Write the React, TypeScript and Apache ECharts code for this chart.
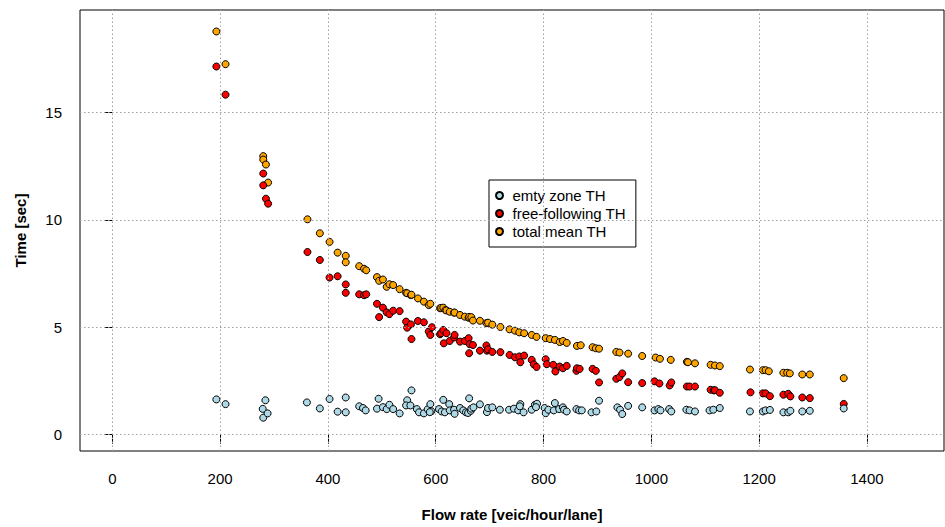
import React, { useEffect, useRef } from "react";
import * as echarts from "echarts";

const xTicks = [0, 200, 400, 600, 800, 1000, 1200, 1400];
const yTicks = [0, 5, 10, 15];

const seriesNames = ["emty zone TH", "free-following TH", "total mean TH"];

const emptyZoneTH = [
  [193, 1.64], [210, 1.42], [280, 0.79], [279, 1.2], [284, 1.6], [288, 0.99], [361, 1.5], [385, 1.22],
  [403, 1.66], [418, 1.07], [433, 1.04], [433, 1.73], [458, 1.32], [465, 1.24], [470, 1.13], [494, 1.67],
  [491, 1.21], [502, 1.28], [509, 1.19], [514, 1.39], [521, 1.19], [533, 0.99], [547, 1.6], [545, 1.36],
  [553, 1.36], [555, 2.06], [565, 1.19], [569, 1.04], [578, 0.99], [585, 1.18], [590, 1.42], [592, 1.09],
  [589, 1.05], [606, 1.19], [614, 1.62], [611, 1.08], [617, 1.04], [625, 1.42], [626, 1.13], [634, 1.16],
  [635, 0.97], [645, 1.24], [651, 1.13], [656, 1.04], [662, 1.69], [660, 1.01], [665, 1.11], [666, 1.21],
  [670, 1.27], [682, 1.41], [695, 1.05], [697, 1.24], [705, 1.27], [719, 1.16], [736, 1.16], [745, 1.21],
  [753, 1.13], [757, 1.42], [763, 1.04], [756, 1.32], [778, 1.16], [784, 1.39], [788, 1.44], [786, 1.28],
  [802, 1.24], [804, 1.0], [809, 1.16], [821, 1.47], [819, 1.13], [829, 1.19], [836, 1.27], [838, 1.16],
  [843, 1.08], [861, 1.19], [866, 1.13], [871, 1.13], [889, 1.04], [898, 1.08], [903, 1.58], [937, 1.27],
  [942, 1.16], [946, 0.96], [957, 1.34], [983, 1.27], [1006, 1.13], [1013, 1.19], [1017, 1.13], [1033, 1.19],
  [1037, 1.08], [1065, 1.16], [1071, 1.13], [1081, 1.08], [1108, 1.13], [1115, 1.16], [1127, 1.24],
  [1183, 1.08], [1207, 1.08], [1212, 1.13], [1220, 1.15], [1245, 1.04], [1254, 1.04], [1258, 1.11],
  [1280, 1.08], [1294, 1.11], [1357, 1.22],
];

const freeFollowingTH = [
  [193, 17.13], [210, 15.82], [280, 12.15], [280, 11.6], [285, 10.98], [289, 10.75], [362, 8.5], [385, 8.13],
  [403, 7.31], [418, 7.37], [433, 6.99], [433, 6.6], [458, 6.53], [467, 6.49], [471, 6.53], [491, 6.09],
  [495, 5.47], [502, 5.91], [509, 5.69], [514, 5.61], [521, 5.77], [533, 5.75], [545, 5.26], [547, 4.98],
  [554, 5.13], [555, 4.45], [567, 5.29], [578, 5.23], [587, 4.8], [590, 4.64], [593, 5.0], [608, 4.67],
  [610, 4.72], [614, 4.87], [615, 4.25], [620, 4.72], [626, 4.36], [634, 4.52], [635, 4.64], [645, 4.33],
  [654, 4.36], [661, 4.49], [662, 3.79], [663, 4.21], [669, 4.17], [682, 3.91], [694, 4.15], [695, 3.91],
  [697, 3.97], [705, 3.85], [720, 3.84], [737, 3.71], [747, 3.6], [755, 3.64], [757, 3.37], [764, 3.68],
  [778, 3.48], [782, 3.27], [787, 3.15], [804, 3.51], [806, 3.28], [818, 3.25], [822, 2.94], [830, 3.17],
  [836, 3.09], [843, 3.2], [861, 2.97], [862, 3.09], [867, 3.06], [891, 3.06], [897, 2.97], [903, 2.43],
  [935, 2.6], [941, 2.68], [946, 2.85], [957, 2.44], [983, 2.4], [1006, 2.48], [1015, 2.38], [1034, 2.29],
  [1037, 2.43], [1066, 2.24], [1071, 2.24], [1081, 2.24], [1110, 2.09], [1116, 2.06], [1118, 2.07],
  [1127, 1.95], [1184, 1.97], [1207, 1.92], [1212, 1.92], [1220, 1.79], [1245, 1.86], [1254, 1.9],
  [1258, 1.78], [1280, 1.73], [1294, 1.7], [1357, 1.43],
];

const totalMeanTH = [
  [193, 18.76], [210, 17.24], [280, 12.96], [280, 12.8], [285, 12.57], [289, 11.73], [362, 10.02], [385, 9.37],
  [403, 8.97], [418, 8.47], [433, 8.32], [433, 8.02], [458, 7.84], [467, 7.72], [471, 7.65], [491, 7.33],
  [495, 7.16], [502, 7.22], [509, 6.88], [514, 7.0], [521, 6.96], [533, 6.77], [545, 6.6], [547, 6.58],
  [554, 6.49], [555, 6.51], [567, 6.34], [578, 6.19], [587, 6.03], [590, 6.09], [608, 5.88], [610, 5.9],
  [614, 5.91], [618, 5.8], [620, 5.78], [626, 5.72], [634, 5.68], [635, 5.68], [645, 5.57], [654, 5.49],
  [661, 5.44], [662, 5.48], [666, 5.47], [669, 5.31], [682, 5.3], [694, 5.19], [697, 5.21], [705, 5.12],
  [720, 5.01], [737, 4.9], [747, 4.84], [755, 4.76], [764, 4.72], [778, 4.64], [787, 4.55], [804, 4.49],
  [812, 4.45], [821, 4.41], [830, 4.31], [836, 4.36], [843, 4.27], [862, 4.13], [869, 4.16], [891, 4.07],
  [897, 4.02], [903, 4.0], [935, 3.85], [941, 3.82], [957, 3.77], [983, 3.66], [1008, 3.59], [1016, 3.53],
  [1036, 3.48], [1066, 3.39], [1068, 3.37], [1081, 3.32], [1110, 3.25], [1118, 3.22], [1127, 3.19],
  [1183, 3.03], [1207, 3.0], [1212, 3.0], [1218, 2.95], [1245, 2.88], [1252, 2.88], [1257, 2.85],
  [1280, 2.8], [1294, 2.8], [1357, 2.63],
];

const FONT = "'Liberation Sans', Arial, Helvetica, sans-serif";
const FS = 15;

export default function App() {
  const ref = useRef<HTMLDivElement>(null);

  useEffect(() => {
    document.body.style.margin = "0";
    const chart = echarts.init(ref.current as HTMLDivElement, null, { renderer: "svg" });

    const pointStyle = (color: string) => ({
      color,
      borderColor: "#000",
      borderWidth: 1,
      opacity: 1,
    });

    chart.setOption({
      animation: false,
      backgroundColor: "#fff",
      textStyle: { fontFamily: FONT },
      grid: {
        left: 80,
        top: 10,
        right: 1,
        bottom: 74,
        show: true,
        borderColor: "#000",
        borderWidth: 1,
        backgroundColor: "transparent",
      },
      legend: {
        orient: "vertical",
        left: 489,
        top: 180,
        data: seriesNames,
        backgroundColor: "#fff",
        borderColor: "#000",
        borderWidth: 1,
        borderRadius: 0,
        padding: [8, 10, 8, 6],
        itemGap: 3,
        itemWidth: 16,
        itemHeight: 7,
        selectedMode: false,
        textStyle: { fontSize: FS, color: "#000", fontFamily: FONT },
      },
      xAxis: {
        type: "value",
        min: -60,
        max: 1543,
        name: "Flow rate [veic/hour/lane]",
        nameLocation: "middle",
        nameGap: 56,
        nameTextStyle: { fontSize: FS, fontWeight: "bold", color: "#000", fontFamily: FONT },
        axisLine: { show: false },
        splitLine: { show: false },
        axisTick: { show: true, customValues: xTicks, length: 9, lineStyle: { color: "#000" } },
        axisLabel: {
          customValues: xTicks,
          fontSize: FS,
          color: "#000",
          margin: 20,
          fontFamily: FONT,
          formatter: (v: number) => String(v),
        },
      },
      yAxis: {
        type: "value",
        min: -0.76,
        max: 19.76,
        name: "Time [sec]",
        nameLocation: "middle",
        nameGap: 52,
        nameRotate: 90,
        nameTextStyle: { fontSize: FS, fontWeight: "bold", color: "#000", fontFamily: FONT },
        axisLine: { show: false },
        splitLine: { show: false },
        axisTick: { show: true, customValues: yTicks, length: 8, lineStyle: { color: "#000" } },
        axisLabel: {
          customValues: yTicks,
          fontSize: FS,
          color: "#000",
          margin: 18,
          fontFamily: FONT,
          formatter: (v: number) => String(v),
        },
      },
      series: [
        {
          type: "scatter",
          name: "gridlines",
          data: [],
          z: 1,
          silent: true,
          markLine: {
            silent: true,
            symbol: ["none", "none"],
            label: { show: false },
            lineStyle: { color: "#a0a0a0", type: [1.5, 2.5], width: 1 },
            data: [
              ...xTicks.map((v) => ({ xAxis: v })),
              ...yTicks.map((v) => ({ yAxis: v })),
            ],
          },
        },
        {
          type: "scatter",
          name: seriesNames[2],
          data: totalMeanTH,
          symbol: "circle",
          symbolSize: 7,
          z: 3,
          itemStyle: pointStyle("#FFA500"),
        },
        {
          type: "scatter",
          name: seriesNames[1],
          data: freeFollowingTH,
          symbol: "circle",
          symbolSize: 7,
          z: 4,
          itemStyle: pointStyle("#FF0000"),
        },
        {
          type: "scatter",
          name: seriesNames[0],
          data: emptyZoneTH,
          symbol: "circle",
          symbolSize: 7,
          z: 5,
          itemStyle: pointStyle("#ADD8E6"),
        },
      ],
    });

    return () => chart.dispose();
  }, []);

  return <div ref={ref} style={{ width: 945, height: 527 }} />;
}
